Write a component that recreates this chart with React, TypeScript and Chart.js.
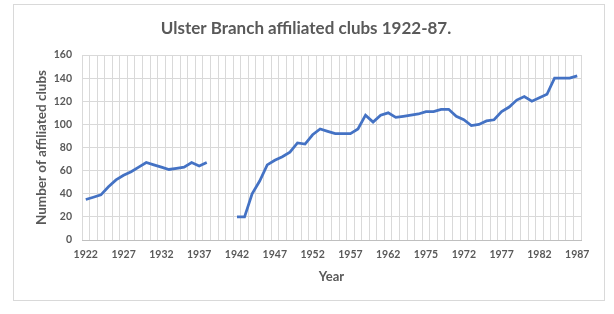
import React, { useEffect, useRef } from "react";
import { Chart, registerables } from "chart.js";

Chart.register(...registerables);

const years: string[] = [
  "1922","1923","1924","1925","1926","1927","1928","1929","1930","1931",
  "1932","1933","1934","1935","1936","1937","1938","1939","1940","1941",
  "1942","1943","1944","1945","1946","1947","1948","1949","1950","1951",
  "1952","1953","1954","1955","1956","1957","1958","1959","1960","1961",
  "1962","1963","1964","1965","1966","1967","1968","1969","1970","1971",
  "1972","1973","1974","1975","1976","1977","1978","1979","1980","1981",
  "1982","1983","1984","1985","1986","1987",
];

const clubs: (number | null)[] = [
  35, 37, 39, 46, 52, 56, 59, 63, 67, 65,
  63, 61, 62, 63, 67, 64, 67, null, null, null,
  20, 20, 40, 51, 65, 69, 72, 76, 84, 83,
  91, 96, 94, 92, 92, 92, 96, 108, 102, 108,
  110, 106, 107, 108, 109, 111, 111, 113, 113, 107,
  104, 99, 100, 103, 104, 111, 115, 121, 124, 120,
  123, 126, 140, 140, 140, 142,
];

// Tick labels shown every fifth category, as printed on the original
const tickLabels: string[] = [
  "1922","1927","1932","1937","1942","1947","1952",
  "1957","1962","1975","1972","1977","1982","1987",
];

const FONT = "Lato, 'Open Sans', sans-serif";
const TEXT = "#595959";
const GRID = "#d9d9d9";

export default function App() {
  const ref = useRef<HTMLCanvasElement | null>(null);

  useEffect(() => {
    document.body.style.margin = "0";
    const canvas = ref.current;
    if (!canvas) return;

    const borderPlugin = {
      id: "outerBorder",
      beforeDraw(chart: any) {
        const ctx = chart.ctx;
        ctx.save();
        ctx.fillStyle = "#ffffff";
        ctx.fillRect(0, 0, chart.width, chart.height);
        ctx.strokeStyle = "#d9d9d9";
        ctx.lineWidth = 1;
        ctx.strokeRect(13.5, 4.5, 591, 296);
        ctx.restore();
      },
    };

    const chart = new Chart(canvas, {
      type: "line",
      data: {
        labels: years,
        datasets: [
          {
            label: "Affiliated clubs",
            data: clubs,
            borderColor: "#4472C4",
            backgroundColor: "#4472C4",
            borderWidth: 2.75,
            pointRadius: 0,
            pointHoverRadius: 0,
            tension: 0,
            spanGaps: false,
          },
        ],
      },
      options: {
        responsive: false,
        animation: false,
        layout: { padding: { left: 31, right: 33, top: 18, bottom: 22 } },
        plugins: {
          legend: { display: false },
          tooltip: { enabled: false },
          title: {
            display: true,
            text: "Ulster Branch affiliated clubs 1922-87.",
            color: TEXT,
            font: { family: FONT, size: 17, weight: "bold", lineHeight: 1.2 },
            padding: { top: 0, bottom: 16.6 },
          },
        },
        scales: {
          x: {
            type: "category",
            offset: true,
            grid: {
              offset: true,
              color: GRID,
              lineWidth: 1,
              drawTicks: false,
            },
            border: { color: "#bfbfbf" },
            ticks: {
              autoSkip: false,
              maxRotation: 0,
              minRotation: 0,
              padding: 8,
              color: TEXT,
              font: { family: FONT, size: 10.5, weight: "bold" },
              callback: (_v: any, index: number) =>
                index % 5 === 0 ? tickLabels[index / 5] : "",
            },
            title: {
              display: true,
              text: "Year",
              color: TEXT,
              font: { family: FONT, size: 13, weight: "bold", lineHeight: 1.2 },
              padding: { top: 0, bottom: 7 },
            },
            afterFit: (scale: any) => {
              scale.height = 52;
            },
          },
          y: {
            min: 0,
            max: 160,
            ticks: {
              stepSize: 20,
              padding: 10,
              color: TEXT,
              font: { family: FONT, size: 10.5, weight: "bold" },
            },
            grid: { color: GRID, lineWidth: 1, drawTicks: false },
            border: { display: false },
            title: {
              display: true,
              text: "Number of affiliated clubs",
              color: TEXT,
              font: { family: FONT, size: 13.5, weight: "bold", lineHeight: 1.2 },
              padding: { top: 3, bottom: 0 },
            },
            afterFit: (scale: any) => {
              scale.width = 51;
            },
          },
        },
      },
      plugins: [borderPlugin],
    });

    return () => chart.destroy();
  }, []);

  return (
    <canvas
      ref={ref}
      width={614}
      height={314}
      style={{ display: "block", width: 614, height: 314 }}
    />
  );
}
